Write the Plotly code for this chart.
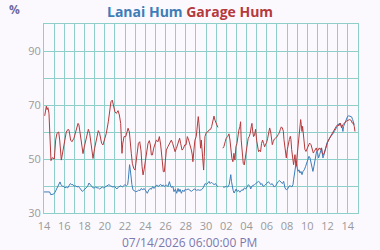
import pandas as pd
import plotly.graph_objects as go

START = pd.Timestamp("2026-06-14")
END = pd.Timestamp("2026-07-15")

# Garage humidity (%), time in days since START; None marks the data gap
garage_days = [0.07, 0.23, 0.30, 0.39, 0.49, 0.63, 0.69, 0.82, 1.02, 1.15, 1.28, 1.45, 1.55, 1.71, 1.88,
               2.04, 2.20, 2.37, 2.47, 2.63, 2.76, 2.96, 3.13, 3.36, 3.45, 3.59, 3.72, 3.85, 3.98, 4.18,
               4.38, 4.51, 4.67, 4.84, 5.00, 5.16, 5.36, 5.49, 5.69, 5.82, 5.99, 6.15, 6.35, 6.48, 6.61,
               6.74, 6.88, 7.00, 7.14, 7.31, 7.44, 7.57, 7.64, 7.70, 7.77, 7.90, 8.07, 8.20, 8.30, 8.43,
               8.53, 8.62, 8.72, 8.86, 8.99, 9.09, 9.18, 9.32, 9.45, 9.58, 9.68, 9.78, 9.88, 9.97, 10.11,
               10.27, 10.40, 10.50, 10.60, 10.70, 10.83, 11.00, 11.09, 11.26, 11.39, 11.52, 11.65, 11.78,
               11.88, 11.98, 12.08, 12.24, 12.41, 12.57, 12.70, 12.84, 12.94, 13.07, 13.23, 13.39, 13.49,
               13.63, 13.76, 13.89, 14.02, 14.15, 14.28, 14.40, 14.47, 14.55, 14.64, 14.70, 14.80, 14.90,
               15.03, 15.13, 15.23, 15.30, 15.36, 15.46, 15.53, 15.63, 15.69, 15.76, 15.82, 15.89, 16.02,
               16.15, 16.28, 16.45, 16.55, 16.68, 16.78, 16.88, 16.97, 17.07, 17.17, 17.40, 17.66, 17.76,
               17.89, 17.99, 18.13, 18.26, 18.36, 18.45, 18.55, 18.65, 18.75, 18.85, 18.95, 19.05, 19.14,
               19.24, 19.34, 19.41, 19.47, 19.57, 19.67, 19.77, 19.87, 19.97, 20.07, 20.16, 20.26, 20.36,
               20.46, 20.53, 20.59, 20.69, 20.79, 20.89, 20.99, 21.09, 21.18, 21.28, 21.38, 21.48, 21.58,
               21.68, 21.78, 21.88, 21.97, 22.07, 22.16, 22.28, 22.38, 22.47, 22.54, 22.64, 22.74, 22.87,
               23.00, 23.13, 23.23, 23.33, 23.43, 23.53, 23.63, 23.69, 23.76, 23.82, 23.92, 24.02, 24.12,
               24.22, 24.32, 24.38, 24.45, 24.51, 24.58, 24.64, 24.71, 24.78, 24.84, 24.91, 24.97, 25.07,
               25.17, 25.27, 25.34, 25.40, 25.47, 25.53, 25.60, 25.66, 25.76, 25.86, 25.96, 26.09, 26.22,
               26.36, 26.49, 26.59, 26.68, 26.78, 26.88, 26.98, 27.08, 27.18, 27.28, 27.38, 27.47, 27.57,
               27.67, 27.77, 27.87, 28.00, 28.20, 28.40, 28.59, 28.72, 28.86, 28.99, 29.12, 29.25, 29.38,
               29.51, 29.68, 29.84, 30.00, 30.17, 30.33, 30.43, 30.53, 30.63, 30.70]
garage_hum = [66, 69.6, 68.3, 69, 67, 51, 49.4, 50.5, 50, 57, 59.5, 60, 57, 49.6, 53,
              55.5, 60, 61, 60.7, 57, 56.4, 57.7, 60, 63.2, 62.6, 59, 55, 52, 54.5, 57.7,
              61, 59.5, 55.2, 50.2, 54, 57, 60.5, 59.5, 55.8, 55.2, 57, 59.5, 63.8, 67.5, 71.2,
              71.8, 68.8, 67.5, 66.9, 67.9, 66.3, 63.2, 57, 52.1, 55.5, 58.3, 58.3, 60.1, 61.4, 60,
              57, 52.1, 48.4, 46.5, 45.9, 49, 52, 55.8, 56.4, 53, 47.2, 44.1, 46, 48.4, 52.7,
              55.8, 56.8, 55.2, 51.5, 51.5, 54, 55.8, 57, 56.4, 58.3, 55.2, 48.4, 45.3,
              45.3, 49, 53.3, 54.6, 55.8, 57, 55.8, 53.3, 52.7, 53.9, 55.8, 57.7, 55.8,
              53.3, 53.9, 55.2, 55.2, 58.3, 57, 55.5, 54.6, 53.3, 51.5, 49, 53.3, 57,
              58.3, 62, 65.7, 63.2, 57.7, 54, 57, 52.7, 49, 45.9, 50.9, 58.3, 59.8,
              60, 60.7, 61, 62, 64.4, 65.9, 64.4, 63.8, 62.6, 61.7, None, 54, 54.6,
              56.4, 57.7, 58.3, 59.3, 57, 53.3, 50.2, 49, 52.1, 49.6, 54.6, 55.8, 59.5,
              60.7, 62, 63.8, 57, 51.5, 48.4, 47.8, 50.9, 54, 55.8, 57.7, 58.3, 59.5,
              62, 63.2, 60.7, 58.3, 58.9, 61, 57, 53.3, 52.7, 53.3, 52.7, 55.8, 57,
              55.8, 54.5, 55.5, 56, 57.5, 59.8, 61.5, 60, 57.2, 55.3, 56.5, 57.4, 57.8,
              58.2, 59.1, 59.7, 60.9, 61.9, 61.5, 60.3, 57.2, 55.3, 52.2, 50.4, 53.5, 56,
              57.2, 58.4, 57.2, 53.5, 51, 49.1, 47.9, 49.8, 51.6, 48.5, 47.3, 50.4, 54.7,
              57.2, 60.9, 64.6, 62.7, 60.2, 62.1, 59, 55.9, 53.5, 52.8, 53.5, 54.7, 55.9,
              55.3, 53.5, 52.2, 52.8, 53.5, 54.1, 52.8, 53.5, 54.1, 53.5, 54.1, 52.2, 51.6,
              52.2, 53.5, 54.7, 56.2, 57.8, 59.2, 60.3, 60.9, 62.1, 62.7, 62.3, 63.3, 61.5,
              62.7, 63.6, 64.0, 64.3, 64.6, 64.3, 63.3, 63.3, 62.1, 60.2]

# Lanai humidity (%)
lanai_days = [0.00, 0.20, 0.39, 0.56, 0.66, 0.79, 0.95, 1.09, 1.22, 1.35, 1.48, 1.58, 1.68, 1.81, 1.94,
              2.07, 2.20, 2.34, 2.47, 2.60, 2.73, 2.86, 2.99, 3.13, 3.26, 3.39, 3.52, 3.65, 3.78, 3.91,
              4.05, 4.18, 4.31, 4.44, 4.57, 4.70, 4.84, 4.97, 5.10, 5.23, 5.36, 5.49, 5.63, 5.76, 5.89,
              6.02, 6.15, 6.28, 6.41, 6.55, 6.68, 6.81, 6.94, 7.07, 7.20, 7.34, 7.47, 7.60, 7.73, 7.86,
              7.99, 8.13, 8.26, 8.32, 8.39, 8.45, 8.52, 8.59, 8.68, 8.78, 8.95, 9.05, 9.22, 9.35, 9.48,
              9.61, 9.74, 9.87, 10.00, 10.14, 10.20, 10.34, 10.47, 10.60, 10.73, 10.86, 10.99, 11.13,
              11.26, 11.39, 11.52, 11.65, 11.78, 11.91, 12.08, 12.24, 12.38, 12.47, 12.57, 12.73, 12.83,
              12.97, 13.10, 13.23, 13.33, 13.43, 13.56, 13.69, 13.82, 13.95, 14.07, 14.23, 14.39, 14.56,
              14.72, 14.89, 15.05, 15.22, 15.38, 15.55, 15.71, 15.81, 15.91, 16.04, 16.17, 16.30, 16.40,
              16.53, 16.66, 16.80, 16.93, 17.09, 17.19, 17.40, 17.68, 17.85, 18.01, 18.14, 18.28, 18.38,
              18.44, 18.51, 18.57, 18.67, 18.77, 18.87, 18.97, 19.07, 19.20, 19.33, 19.43, 19.53, 19.66,
              19.79, 19.92, 20.05, 20.18, 20.32, 20.41, 20.51, 20.64, 20.78, 20.91, 21.04, 21.17, 21.30,
              21.40, 21.50, 21.63, 21.76, 21.89, 22.03, 22.16, 22.29, 22.39, 22.52, 22.61, 22.74, 22.87,
              23.00, 23.13, 23.26, 23.39, 23.53, 23.66, 23.79, 23.92, 24.05, 24.18, 24.32, 24.45, 24.58,
              24.64, 24.74, 24.84, 24.91, 24.97, 25.07, 25.17, 25.27, 25.37, 25.47, 25.57, 25.70, 25.83,
              25.96, 26.06, 26.16, 26.26, 26.36, 26.45, 26.55, 26.65, 26.72, 26.82, 26.91, 27.01, 27.11,
              27.21, 27.31, 27.41, 27.47, 27.54, 27.60, 27.70, 27.80, 27.93, 28.07, 28.20, 28.33, 28.46,
              28.59, 28.72, 28.86, 28.99, 29.12, 29.25, 29.35, 29.45, 29.51, 29.58, 29.71, 29.84, 29.97,
              30.10, 30.24, 30.37, 30.47, 30.57, 30.63]
lanai_hum = [37.8, 37.8, 38, 37.8, 36.8, 37, 37, 37.7, 38.6, 39.9, 40.9, 41.5, 40.5, 39.9, 39.9,
             39.3, 39.6, 39.3, 40.1, 40.9, 40.5, 40.5, 39.9, 40.1, 39.6, 39.9, 39.3, 38.6, 38, 38.4,
             38.9, 39.3, 39.9, 41.1, 40.5, 39.9, 39.3, 39.3, 39.6, 39.3, 39.3, 38.9, 39.3, 39.6, 39.3,
             39.6, 39.9, 40.1, 40.5, 40.1, 39.9, 39.6, 39.9, 39.3, 38.9, 39.6, 39.9, 40.1, 39.6, 39.9,
             40.5, 40.1, 40.5, 42.3, 44.8, 47.9, 46, 43, 40.5, 38.6, 38, 37.9, 38.1, 38.5, 38.3,
             39.1, 38.5, 39.1, 38.5, 37.9, 37.3, 38.5, 39.1, 38.8, 39.8, 39.1, 39.8, 40.4,
             39.8, 40.4, 40.6, 40, 40.4, 39.8, 40.4, 39.8, 41.6, 40.4, 39.5, 39.8, 37.9,
             38.8, 37.3, 39.1, 37.9, 38.8, 37.3, 38.5, 37.9, 38.8, 38.6, 38.9, 38.4, 38,
             38.6, 38.9, 38.4, 38.6, 38.4, 38.6, 39.3, 40.5, 40.9, 40.5, 41.1, 41.7, 40.9,
             41.4, 40.9, 40.5, 40.9, 39.9, 39.9, None, 39.6, 39.6, 39.9, 39.6, 40.5, 42.3,
             44.2, 41.7, 39.9, 38.4, 37.4, 38, 38.9, 38, 38.4, 37.7, 38, 38.6, 38.4,
             39.3, 38.9, 39.9, 40.5, 39.9, 38.9, 39.9, 40.1, 40.5, 40.9, 41.4, 41.7, 41.4,
             40.5, 40.9, 39.9, 40.1, 40.5, 41.1, 41.6, 40.9, 40.5, 40.9, 40.5, 39.6, 40.1,
             41.1, 41.7, 42, 41.4, 40.9, 41.7, 39.3, 38.6, 38.9, 39.9, 40.1, 39.6, 40.5,
             42.3, 44.8, 47.3, 49.1, 47.3, 45.4, 46, 44.8, 45.4, 44.2, 45.4, 46, 47.3,
             49.1, 50.4, 51, 50.4, 48.5, 46, 45.4, 47.3, 49.1, 51.6, 52.8, 52.2, 50.4,
             51.6, 53.5, 54.1, 52.2, 50.4, 51, 52.8, 54.7, 55.9, 56.9, 57.8, 58.4, 59,
             59.6, 60.6, 61.5, 62.3, 63.1, 63.1, 62.3, 61.5, 60.2, 62.1, 63.3, 64.6, 65.8,
             66, 65.8, 65.6, 64.6, 63.6, 62.7]

y_ticks = [30, 50, 70, 90]

BG = "#fbf9fe"
GRID = "#8fcfc9"
TICK_COLOR = "#9a9a9a"
BLUE = "#3d7db8"
RED = "#b53a3c"
FONT = "Open Sans"


def to_time(days):
    return [START + pd.Timedelta(days=d) for d in days]


fig = go.Figure()
fig.add_trace(go.Scatter(x=to_time(lanai_days), y=lanai_hum, mode="lines", name="Lanai Hum",
                         line=dict(color=BLUE, width=1), connectgaps=False))
fig.add_trace(go.Scatter(x=to_time(garage_days), y=garage_hum, mode="lines", name="Garage Hum",
                         line=dict(color=RED, width=1), connectgaps=False))

fig.update_layout(
    width=380, height=250,
    margin=dict(l=44, r=22, t=24, b=37),
    paper_bgcolor=BG, plot_bgcolor=BG,
    showlegend=False,
    font=dict(family=FONT, size=11, color=TICK_COLOR),
    xaxis=dict(
        type="date", range=[START, END],
        tick0=START, dtick=2 * 86400000, tickformat="%d",
        showgrid=True, gridcolor=GRID, gridwidth=1,
        minor=dict(dtick=86400000, tick0=START, showgrid=True, gridcolor=GRID, gridwidth=1),
        showline=True, linecolor=GRID, linewidth=1, mirror=True,
        zeroline=False, ticks="", ticklabelstandoff=3,
        tickfont=dict(size=11, color=TICK_COLOR),
    ),
    yaxis=dict(
        range=[30, 100], tickvals=y_ticks,
        showgrid=True, gridcolor=GRID, gridwidth=1,
        minor=dict(dtick=10, tick0=30, showgrid=True, gridcolor=GRID, gridwidth=1),
        showline=True, linecolor=GRID, linewidth=1, mirror=True,
        zeroline=False, ticks="", tickfont=dict(size=11, color=TICK_COLOR),
    ),
    annotations=[
        dict(text=f"<b><span style='color:{BLUE}'>Lanai Hum</span> <span style='color:{RED}'>Garage Hum</span></b>",
             xref="paper", yref="paper", x=(190 - 44.3) / 314, y=(213.3 - 11) / 189.3,
             xanchor="center", yanchor="middle", showarrow=False,
             font=dict(family=FONT, size=14)),
        dict(text="<b>%</b>", xref="paper", yref="paper", x=(15 - 44.3) / 314, y=(213.3 - 9) / 189.3,
             xanchor="center", yanchor="middle", showarrow=False,
             font=dict(family=FONT, size=12, color="#6d6b9e")),
        dict(text="07/14/2026 06:00:00 PM", xref="paper", yref="paper",
             x=(190 - 44.3) / 314, y=(213.3 - 242.7) / 189.3,
             xanchor="center", yanchor="middle", showarrow=False,
             font=dict(family=FONT, size=12, color="#7b78ad")),
    ],
)

fig.write_html("out.html")
